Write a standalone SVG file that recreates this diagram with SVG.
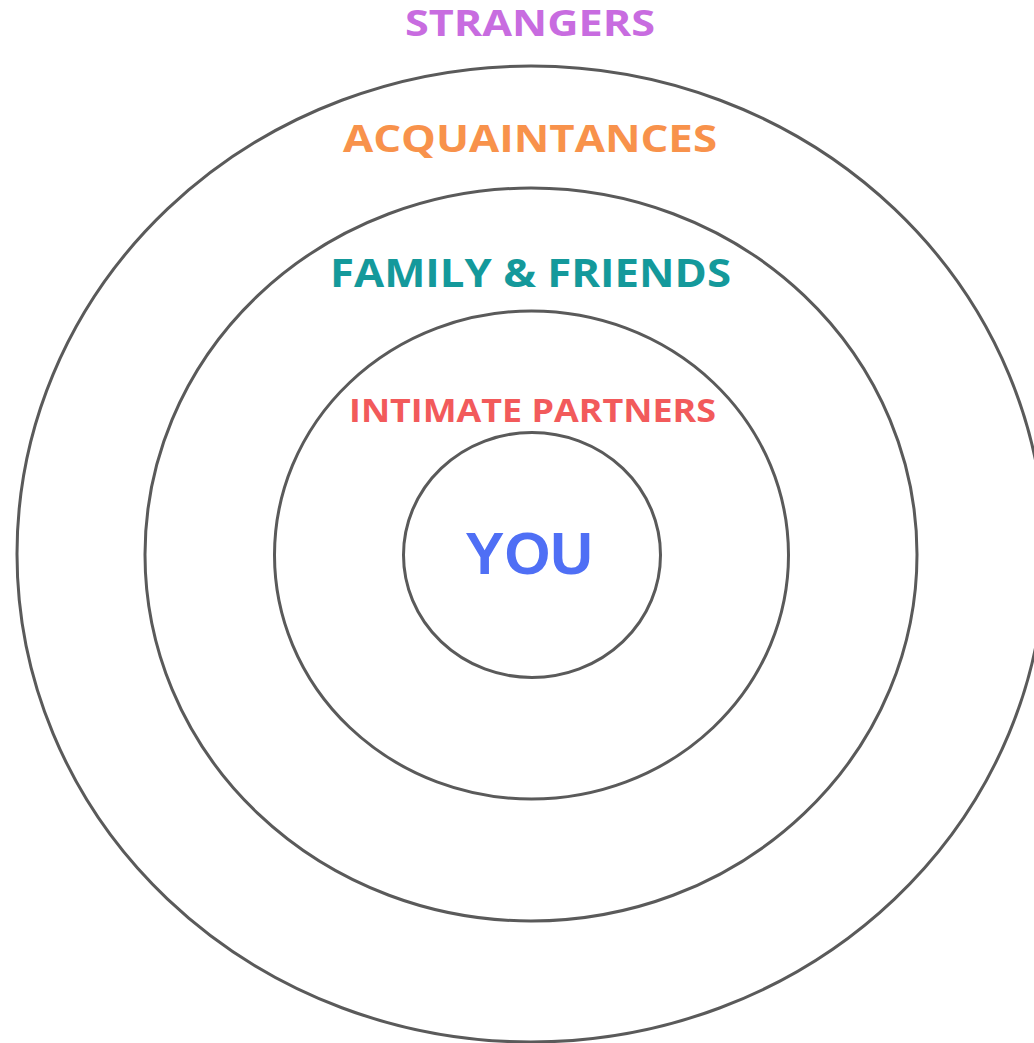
<svg xmlns="http://www.w3.org/2000/svg" width="1034" height="1043" viewBox="0 0 1034 1043">
<style>
.ring{fill:none;stroke:#5a5a5a;stroke-width:3}
.lbl{font-family:"Open Sans","DejaVu Sans",sans-serif;font-weight:700;text-anchor:middle}
</style>
<rect width="1034" height="1043" fill="#ffffff"/>
<g id="ring-strangers"><ellipse class="ring" cx="531" cy="554" rx="514" ry="488"/></g>
<g id="ring-acquaintances"><ellipse class="ring" cx="531" cy="554.5" rx="386" ry="366.5"/></g>
<g id="ring-family"><ellipse class="ring" cx="531.5" cy="555" rx="257" ry="244"/></g>
<g id="ring-you"><ellipse class="ring" cx="532" cy="555" rx="128.5" ry="122.5"/></g>
<g id="label-strangers"><text class="lbl" x="530" y="36" font-size="36" fill="#c86ce0" textLength="250" lengthAdjust="spacingAndGlyphs">STRANGERS</text></g>
<g id="label-acquaintances"><text class="lbl" x="530" y="152" font-size="37" fill="#f8924b" textLength="374" lengthAdjust="spacingAndGlyphs">ACQUAINTANCES</text></g>
<g id="label-family"><text class="lbl" x="530.5" y="287" font-size="40" fill="#14999b" textLength="401" lengthAdjust="spacingAndGlyphs">FAMILY &amp; FRIENDS</text></g>
<g id="label-intimate"><text class="lbl" x="532.5" y="422" font-size="33" fill="#f25a5b" textLength="367" lengthAdjust="spacingAndGlyphs">INTIMATE PARTNERS</text></g>
<g id="label-you"><text x="529" y="574" font-family="'Liberation Sans',Arial,sans-serif" font-weight="700" text-anchor="middle" font-size="59" fill="#4f6ff5">YOU</text></g>
</svg>
